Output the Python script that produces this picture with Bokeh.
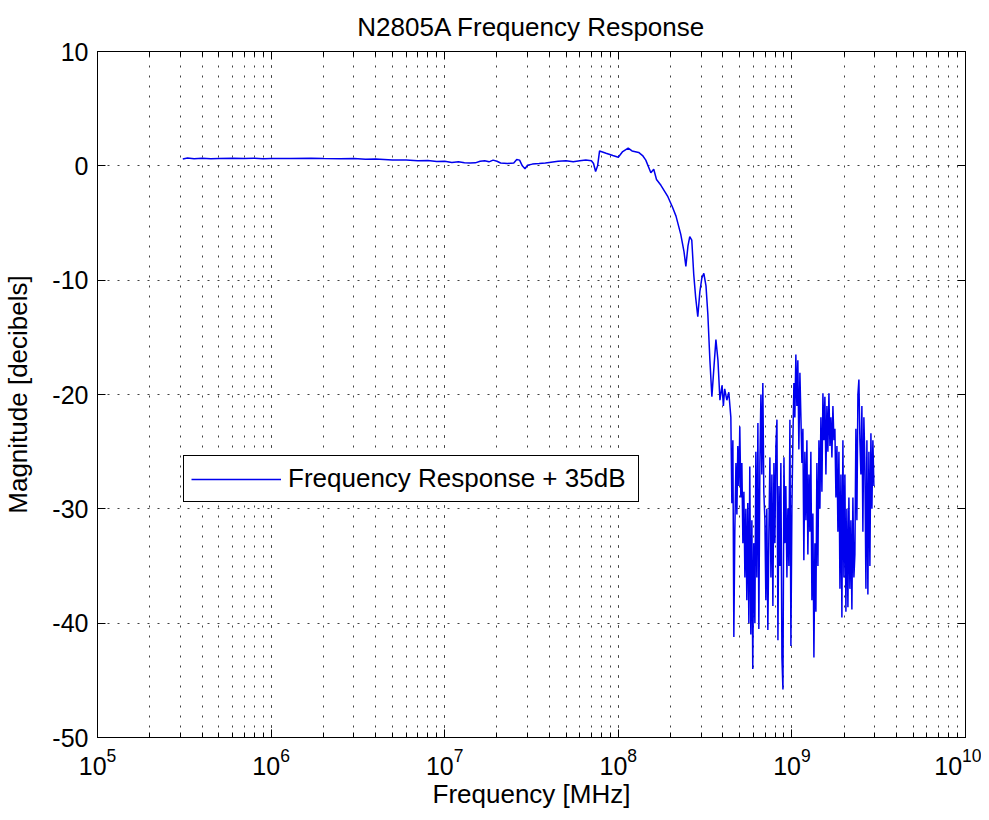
from bokeh.plotting import figure
from bokeh.models import (LogAxis, LinearAxis, LogTicker, SingleIntervalTicker,
                          CustomJSTickFormatter, ColumnDataSource)
from bokeh.embed import file_html
from bokeh.resources import INLINE

# ---------------- data ----------------
flat_freq = [3.1e5, 3.3e5, 3.6e5, 4.0e5, 4.5e5, 5.0e5, 6.0e5, 7.0e5, 8.0e5, 9.0e5,
             1.0e6, 1.3e6, 1.7e6, 2.0e6, 2.5e6, 3.0e6, 3.5e6, 4.0e6, 5.0e6, 6.0e6,
             7.0e6, 8.0e6, 9.0e6, 1.0e7, 1.1e7, 1.2e7, 1.3e7, 1.4e7, 1.5e7, 1.6e7,
             1.7e7, 1.8e7, 1.9e7, 2.0e7, 2.1e7, 2.3e7, 2.5e7, 2.6e7, 2.7e7, 2.8e7,
             2.9e7, 3.0e7, 3.2e7, 3.5e7, 3.8e7, 4.0e7, 4.5e7, 5.0e7, 5.5e7, 6.0e7,
             6.5e7, 7.0e7, 7.2e7, 7.4e7, 7.6e7, 7.8e7, 8.5e7, 9.3e7, 1.0e8, 1.06e8,
             1.14e8, 1.2e8, 1.31e8, 1.38e8, 1.44e8]
flat_db = [0.60, 0.68, 0.63, 0.66, 0.62, 0.65, 0.67, 0.64, 0.66, 0.63,
           0.65, 0.64, 0.66, 0.64, 0.62, 0.65, 0.58, 0.60, 0.52, 0.50,
           0.45, 0.47, 0.38, 0.40, 0.30, 0.35, 0.28, 0.25, 0.26, 0.40,
           0.45, 0.35, 0.50, 0.40, 0.25, 0.20, 0.25, 0.55, 0.50, 0.00,
           -0.25, 0.05, 0.15, 0.20, 0.25, 0.30, 0.40, 0.45, 0.35, 0.45,
           0.50, 0.45, 0.20, -0.50, 0.00, 1.30, 1.10, 0.90, 0.75, 1.25,
           1.55, 1.30, 1.17, 0.90, 0.50]

rolloff_freq = [1.54e8, 1.60e8, 1.66e8, 1.76e8, 1.93e8, 2.05e8, 2.15e8, 2.29e8, 2.39e8, 2.45e8,
                2.52e8, 2.58e8, 2.65e8, 2.72e8, 2.79e8, 2.87e8, 2.95e8, 3.03e8, 3.11e8, 3.20e8,
                3.28e8, 3.37e8, 3.46e8, 3.56e8, 3.65e8, 3.75e8, 3.85e8, 3.96e8, 4.03e8, 4.10e8,
                4.22e8, 4.33e8, 4.45e8]
rolloff_db = [-0.60, -0.30, -1.20, -1.70, -2.70, -3.60, -4.40, -6.00, -7.50, -8.80,
              -7.00, -6.20, -6.50, -9.50, -11.5, -13.2, -11.0, -9.8, -9.4, -10.5,
              -13.0, -17.0, -20.2, -17.5, -15.2, -17.0, -20.5, -19.2, -21.0, -19.5,
              -20.5, -19.8, -22.0]

noise_freq = [4.51e8, 4.57e8, 4.63e8, 4.69e8, 4.76e8, 4.82e8, 4.88e8, 4.95e8, 5.01e8, 5.08e8,
              5.15e8, 5.22e8, 5.29e8, 5.36e8, 5.43e8, 5.50e8, 5.57e8, 5.65e8, 5.72e8, 5.80e8,
              5.88e8, 5.95e8, 6.03e8, 6.12e8, 6.20e8, 6.28e8, 6.37e8, 6.45e8, 6.54e8, 6.63e8,
              6.71e8, 6.80e8, 6.89e8, 6.99e8, 7.08e8, 7.17e8, 7.27e8, 7.37e8, 7.47e8, 7.57e8,
              7.67e8, 7.77e8, 7.88e8, 7.98e8, 8.09e8, 8.20e8, 8.31e8, 8.42e8, 8.53e8, 8.64e8,
              8.76e8, 8.88e8, 9.00e8, 9.12e8, 9.23e8, 9.36e8, 9.48e8, 9.61e8, 9.74e8, 9.87e8,
              1.000e9, 1.013e9, 1.027e9, 1.040e9, 1.054e9, 1.068e9, 1.082e9, 1.097e9, 1.112e9, 1.127e9,
              1.142e9, 1.157e9, 1.172e9, 1.188e9, 1.204e9, 1.220e9, 1.236e9, 1.253e9, 1.269e9, 1.286e9,
              1.304e9, 1.321e9, 1.339e9, 1.357e9, 1.375e9, 1.393e9, 1.412e9, 1.431e9, 1.450e9, 1.469e9,
              1.489e9, 1.509e9, 1.529e9, 1.549e9, 1.570e9, 1.591e9, 1.612e9, 1.634e9, 1.656e9, 1.678e9,
              1.700e9, 1.723e9, 1.746e9, 1.769e9, 1.793e9, 1.817e9, 1.841e9, 1.866e9, 1.891e9, 1.916e9,
              1.941e9, 1.967e9, 1.993e9, 2.020e9, 2.047e9, 2.074e9, 2.102e9, 2.130e9, 2.158e9, 2.187e9,
              2.216e9, 2.246e9, 2.276e9, 2.306e9, 2.337e9, 2.368e9, 2.400e9, 2.432e9, 2.464e9, 2.497e9,
              2.530e9, 2.564e9, 2.598e9, 2.633e9, 2.669e9, 2.704e9, 2.740e9, 2.777e9, 2.814e9, 2.852e9,
              2.890e9, 2.928e9, 2.967e9]
noise_db = [-29.5, -24.0, -41.2, -32.0, -26.0, -30.5, -24.5, -28.0, -22.8, -29.0,
            -26.0, -33.0, -28.5, -36.0, -30.0, -38.0, -29.5, -40.0, -26.3, -41.0,
            -31.0, -44.0, -33.0, -40.0, -25.0, -36.0, -22.5, -40.5, -26.0, -20.0,
            -27.0, -19.0, -28.5, -31.0, -38.0, -30.0, -40.6, -32.0, -25.5, -36.0,
            -27.0, -38.5, -26.0, -33.0, -24.5, -22.2, -41.5, -28.0, -35.0, -26.0,
            -43.0, -45.8, -25.5, -33.0, -28.0, -36.0, -30.0, -35.0, -22.2, -42.0,
            -30.0, -24.0, -19.0, -22.0, -16.5, -21.0, -17.0, -24.8, -18.1, -22.0,
            -26.0, -23.0, -34.5, -25.0, -31.0, -24.0, -34.0, -27.0, -32.0, -25.0,
            -38.0, -30.4, -43.0, -33.0, -39.0, -26.0, -35.0, -24.0, -30.0, -22.0,
            -28.5, -19.9, -24.0, -20.2, -27.0, -21.0, -25.0, -19.9, -24.5, -22.0,
            -25.5, -21.0, -24.0, -23.0, -29.0, -24.5, -32.0, -25.0, -37.0, -27.0,
            -39.5, -24.0, -36.0, -27.0, -39.0, -30.0, -38.6, -29.0, -37.0, -31.0,
            -38.8, -29.0, -36.0, -34.0, -23.0, -31.0, -20.0, -18.7, -24.0, -27.0,
            -21.0, -32.0, -22.0, -26.0, -37.0, -24.0, -37.5, -25.0, -35.0, -23.4,
            -30.0, -24.0, -28.0]

y_ticks = [-50, -40, -30, -20, -10, 0, 10]

freq_hz = flat_freq + rolloff_freq + noise_freq
magnitude_db = flat_db + rolloff_db + noise_db

FONT = "Liberation Sans"
DOT = "#404040"

p = figure(x_axis_type="log", x_range=(1e5, 1e10), y_range=(-50, 10),
           frame_width=868, frame_height=686,
           min_border_left=0, min_border_right=16, min_border_top=0, min_border_bottom=0,
           output_backend="svg", toolbar_location=None,
           title="N2805A Frequency Response")
p.background_fill_color = "white"
p.border_fill_color = "white"
p.outline_line_color = "black"
p.outline_line_alpha = 1.0

p.title.text_font = FONT
p.title.text_font_size = "26px"
p.title.text_font_style = "normal"
p.title.text_color = "black"
p.title.align = "center"
p.title.standoff = 19

xticker = LogTicker(desired_num_ticks=6, num_minor_ticks=10)
yticker = SingleIntervalTicker(interval=10, num_minor_ticks=0)
p.xaxis.ticker = xticker
p.yaxis.ticker = yticker
p.yaxis.formatter = CustomJSTickFormatter(code="return tick.toString()")

for ax in (p.xaxis[0], p.yaxis[0]):
    ax.axis_line_color = "black"
    ax.major_tick_line_color = "black"
    ax.minor_tick_line_color = "black"
    ax.major_tick_in = 8
    ax.major_tick_out = 0
    ax.minor_tick_in = 5
    ax.minor_tick_out = 0
    ax.major_label_text_font = FONT
    ax.major_label_text_font_size = "25px"
    ax.major_label_text_color = "black"
    ax.axis_label_text_font = FONT
    ax.axis_label_text_font_size = "26px"
    ax.axis_label_text_font_style = "normal"
    ax.axis_label_text_color = "black"

p.xaxis.axis_label = "Frequency [MHz]"
p.yaxis.axis_label = "Magnitude [decibels]"
p.yaxis.major_label_standoff = 9
p.yaxis.axis_label_standoff = 16
p.xaxis.major_label_standoff = 10
p.xaxis.axis_label_standoff = 1

blank = CustomJSTickFormatter(code="return ''")
top = LogAxis(ticker=xticker, formatter=blank, major_tick_in=8, major_tick_out=0,
              minor_tick_in=5, minor_tick_out=0, major_label_standoff=0,
              axis_line_color="black")
p.add_layout(top, "above")
right = LinearAxis(ticker=yticker, formatter=blank, major_tick_in=8, major_tick_out=0,
                   minor_tick_in=0, minor_tick_out=0, major_label_standoff=0,
                   axis_line_color="black")
p.add_layout(right, "right")

for g in (p.xgrid[0], p.ygrid[0]):
    g.grid_line_color = DOT
    g.grid_line_dash = "2 8"
    g.grid_line_width = 1
p.xgrid.minor_grid_line_color = DOT
p.xgrid.minor_grid_line_dash = "2 8"

src = ColumnDataSource(dict(f=freq_hz, m=magnitude_db))
p.line("f", "m", source=src, line_color="#0000ee", line_width=1.5,
       legend_label="Frequency Response + 35dB")

leg = p.legend[0]
leg.location = (86, 235)
leg.label_text_font = FONT
leg.label_text_font_size = "26px"
leg.label_text_color = "black"
leg.border_line_color = "black"
leg.border_line_alpha = 1.0
leg.border_line_width = 1
leg.background_fill_alpha = 1.0
leg.glyph_width = 90
leg.label_width = 343
leg.padding = 7
leg.margin = 0
leg.label_standoff = 7

open("out.html", "w").write(file_html(p, INLINE))
